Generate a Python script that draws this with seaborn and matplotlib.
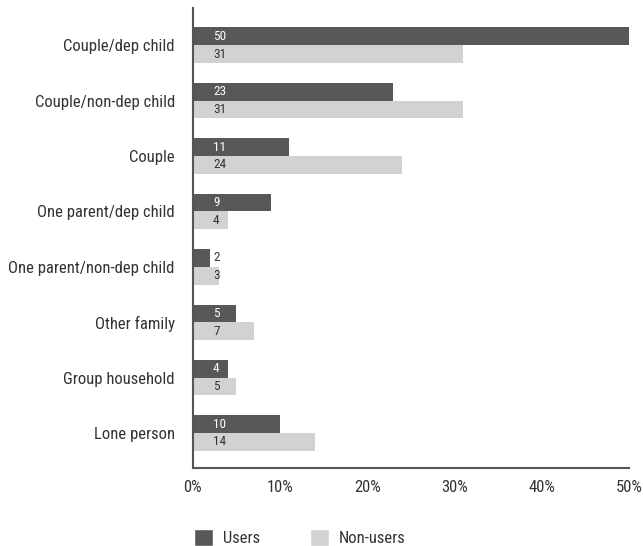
import matplotlib
matplotlib.use("Agg")
import matplotlib.pyplot as plt
import seaborn as sns
import pandas as pd
from matplotlib.patches import Patch

categories = ["Couple/dep child", "Couple/non-dep child", "Couple", "One parent/dep child",
              "One parent/non-dep child", "Other family", "Group household", "Lone person"]
users = [50, 23, 11, 9, 2, 5, 4, 10]
non_users = [31, 31, 24, 4, 3, 7, 5, 14]
series = ["Users", "Non-users"]
xticks = [0, 10, 20, 30, 40, 50]

dark = "#58585a"
light = "#d1d2d4"
txtc = "#333333"

df = pd.DataFrame({
    "category": categories * 2,
    "value": users + non_users,
    "series": [series[0]] * len(categories) + [series[1]] * len(categories),
})

sns.set_style("white")
plt.rcParams["font.family"] = ["Roboto Condensed", "Liberation Sans Narrow", "Archivo Narrow",
                               "Barlow Semi Condensed", "DejaVu Sans"]

fig = plt.figure(figsize=(6.43, 5.46), dpi=100)
ax = fig.add_axes([0.300, 0.1429, 0.678, 0.8424])

sns.barplot(data=df, y="category", x="value", hue="series", order=categories,
            hue_order=series, palette=[dark, light], width=0.64, orient="h",
            ax=ax, legend=False, saturation=1, edgecolor="none", linewidth=0)

ax.set_xlim(0, 50)
ax.set_ylim(7.63, -0.67)
ax.set_xticks(xticks)
ax.set_xticklabels([f"{t}%" for t in xticks])
ax.set_xlabel("")
ax.set_ylabel("")
ax.tick_params(axis="both", length=0, labelsize=12, colors=txtc)
ax.tick_params(axis="x", pad=9)
ax.tick_params(axis="y", pad=13)
for s in ["top", "right"]:
    ax.spines[s].set_visible(False)
for s in ["left", "bottom"]:
    ax.spines[s].set_color("#555555")
    ax.spines[s].set_linewidth(1.5)

off = 0.16
for i, (u, n) in enumerate(zip(users, non_users)):
    ax.text(2.3, i - off, str(u), va="center", ha="left", fontsize=9.5,
            color="white" if u >= 3 else txtc)
    ax.text(2.3, i + off, str(n), va="center", ha="left", fontsize=9.5, color=txtc)

handles = [Patch(facecolor=dark, label=series[0]), Patch(facecolor=light, label=series[1])]
fig.legend(handles=handles, loc="lower left", bbox_to_anchor=(0.278, -0.028), ncol=2,
           frameon=False, fontsize=12, handlelength=1.15, handleheight=1.15,
           columnspacing=3.0, handletextpad=0.6, labelcolor=txtc)

fig.savefig("out.png", dpi=100)
